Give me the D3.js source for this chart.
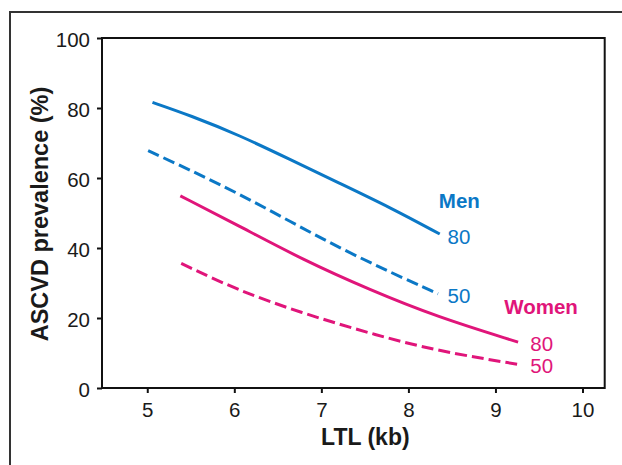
<!DOCTYPE html>
<html>
<head>
<meta charset="utf-8">
<script src="https://cdn.jsdelivr.net/npm/d3@7"></script>
<style>
  html, body { margin: 0; padding: 0; background: #fff; }
  svg { display: block; font-family: "Liberation Sans", Arial, Helvetica, sans-serif; }
</style>
</head>
<body>
<svg id="chart" width="622" height="465"></svg>
<script>
// ---- Data ----
const xTicks = [5, 6, 7, 8, 9, 10];
const yTicks = [0, 20, 40, 60, 80, 100];

const menAge80X = [5.06, 5.49, 6.06, 6.64, 7.21, 7.79, 8.36];
const menAge80Y = [81.6, 77.9, 72.2, 65.3, 58.5, 51.6, 44.0];
const menAge50X = [5.01, 5.49, 6.06, 6.64, 7.21, 7.79, 8.34];
const menAge50Y = [67.8, 62.3, 55.4, 47.6, 40.0, 33.1, 26.9];
const womenAge80X = [5.38, 6.04, 6.79, 7.56, 8.32, 9.26];
const womenAge80Y = [54.9, 46.5, 36.6, 28.0, 20.4, 13.1];
const womenAge50X = [5.39, 6.03, 6.79, 7.56, 8.32, 9.30];
const womenAge50Y = [35.6, 28.0, 21.3, 15.6, 10.6, 6.6];

const labelTexts = ["Men", "80", "50", "Women", "80", "50"];
const labelX = [8.35, 8.45, 8.45, 9.10, 9.40, 9.40];
const labelY = [51.5, 41.1, 24.4, 21.1, 10.7, 4.2];
const labelBold = [true, false, false, true, false, false];
const labelSex = ["men", "men", "men", "women", "women", "women"];

const blue = "#0b78c6";
const magenta = "#e0157a";

// ---- Layout ----
const svg = d3.select("#chart");
const pLeft = 102, pRight = 604.7, pTop = 38, pBottom = 388;

const x = d3.scaleLinear().domain([4.48, 10.255]).range([pLeft, pRight]);
const y = d3.scaleLinear().domain([0, 100]).range([pBottom, pTop]);

// outer frame (only top/left visible)
svg.append("rect")
  .attr("x", 10).attr("y", 12).attr("width", 700).attr("height", 600)
  .attr("fill", "none").attr("stroke", "#333").attr("stroke-width", 2);

// plot box
svg.append("rect")
  .attr("x", pLeft).attr("y", pTop).attr("width", pRight - pLeft).attr("height", pBottom - pTop)
  .attr("fill", "none").attr("stroke", "#111").attr("stroke-width", 2);

// axes
const xAxis = svg.append("g")
  .attr("transform", `translate(0,${pBottom})`)
  .call(d3.axisBottom(x).tickValues(xTicks).tickFormat(d3.format("d")).tickSize(5).tickSizeOuter(0).tickPadding(9));
const yAxis = svg.append("g")
  .attr("transform", `translate(${pLeft},0)`)
  .call(d3.axisLeft(y).tickValues(yTicks).tickFormat(d3.format("d")).tickSize(5).tickSizeOuter(0).tickPadding(7));

[xAxis, yAxis].forEach(g => {
  g.select(".domain").remove();
  g.selectAll(".tick line").attr("stroke", "#111").attr("stroke-width", 2);
  g.selectAll(".tick text").attr("fill", "#1a1a1a").style("font-size", "20.5px")
    .style("font-family", "'Liberation Sans', Arial, sans-serif");
});
yAxis.selectAll(".tick text").attr("dy", "0.4em");

// axis titles
svg.append("text")
  .attr("x", (pLeft + pRight) / 2 + 12).attr("y", 445)
  .attr("text-anchor", "middle")
  .style("font-size", "23px").style("font-weight", "bold").attr("fill", "#1a1a1a")
  .text("LTL (kb)");
svg.append("text")
  .attr("transform", `translate(48,${(pTop + pBottom) / 2 + 1}) rotate(-90)`)
  .attr("text-anchor", "middle")
  .style("font-size", "23.5px").style("font-weight", "bold").attr("fill", "#1a1a1a")
  .text("ASCVD prevalence (%)");

// lines
const series = [
  { xs: menAge80X, ys: menAge80Y, color: blue, dash: null },
  { xs: menAge50X, ys: menAge50Y, color: blue, dash: "12,5" },
  { xs: womenAge80X, ys: womenAge80Y, color: magenta, dash: null },
  { xs: womenAge50X, ys: womenAge50Y, color: magenta, dash: "12,5" }
];
const line = d3.line()
  .x(d => x(d[0])).y(d => y(d[1]))
  .curve(d3.curveBasis);

series.forEach(s => {
  const pts = s.xs.map((v, i) => [v, s.ys[i]]);
  svg.append("path")
    .datum(pts)
    .attr("d", line)
    .attr("fill", "none")
    .attr("stroke", s.color)
    .attr("stroke-width", 3)
    .attr("stroke-dasharray", s.dash);
});

// labels
labelTexts.forEach((t, i) => {
  svg.append("text")
    .attr("x", x(labelX[i])).attr("y", y(labelY[i]))
    .attr("fill", labelSex[i] === "men" ? blue : magenta)
    .style("font-size", "20.5px")
    .style("font-weight", labelBold[i] ? "bold" : "normal")
    .text(t);
});
</script>
</body>
</html>
